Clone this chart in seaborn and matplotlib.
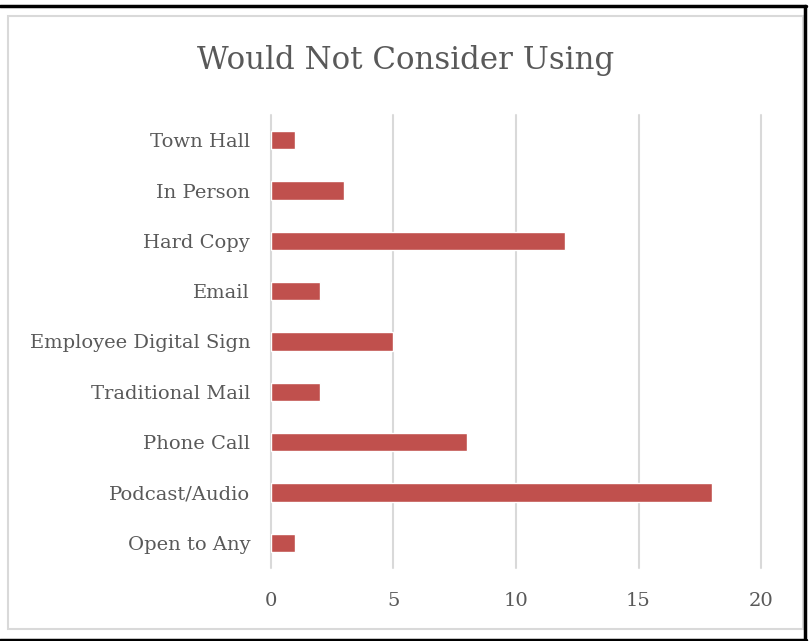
import matplotlib
matplotlib.use("Agg")
import matplotlib.pyplot as plt
import seaborn as sns
import pandas as pd
from matplotlib.patches import Rectangle
from matplotlib.lines import Line2D

categories = ["Town Hall", "In Person", "Hard Copy", "Email", "Employee Digital Sign",
              "Traditional Mail", "Phone Call", "Podcast/Audio", "Open to Any"]
counts = [1, 3, 12, 2, 5, 2, 8, 18, 1]
x_ticks = [0, 5, 10, 15, 20]
title = "Would Not Consider Using"

df = pd.DataFrame({"category": categories, "count": counts})

sns.set_theme(style="white")
plt.rcParams["font.family"] = ["DejaVu Serif"]

text_color = "#595959"
grid_color = "#D9D9D9"
bar_color = "#C0504D"

fig = plt.figure(figsize=(8.12, 6.41), dpi=100)
ax = fig.add_axes([271 / 812, 1 - 568 / 641, 490 / 812, 453 / 641])

sns.barplot(data=df, y="category", x="count", order=categories, color=bar_color,
            saturation=1, width=0.37, ax=ax, orient="h")

ax.set_xlim(0, 20)
ax.set_ylim(len(categories) - 0.5, -0.5)
ax.set_xticks(x_ticks)
ax.set_xticklabels([str(t) for t in x_ticks])
ax.xaxis.grid(True, color=grid_color, linewidth=1.5)
ax.set_axisbelow(True)
for s in ax.spines.values():
    s.set_visible(False)
ax.set_xlabel("")
ax.set_ylabel("")
ax.tick_params(axis="both", length=0, labelsize=14, colors=text_color)
ax.tick_params(axis="y", pad=15)
ax.tick_params(axis="x", pad=17)

fig.canvas.draw()
for gl in ax.get_xgridlines():
    gl.set_clip_on(False)

fig.text(406 / 812, 1 - 60 / 641, title, ha="center", va="center",
         fontsize=22.2, color=text_color)

# chart-area frame and outer black rules
fig.patches.append(Rectangle((8 / 812, 1 - 629 / 641), (803 - 8) / 812, (629 - 16) / 641,
                             transform=fig.transFigure, fill=False,
                             edgecolor=grid_color, linewidth=1.5))
fig.lines.append(Line2D([0, 806 / 812], [1 - 6 / 641, 1 - 6 / 641],
                        transform=fig.transFigure, color="black", linewidth=2.5))
fig.lines.append(Line2D([805.5 / 812, 805.5 / 812], [1 - 6 / 641, 1 - 640 / 641],
                        transform=fig.transFigure, color="black", linewidth=2.5))
fig.lines.append(Line2D([0, 806 / 812], [1 - 639.5 / 641, 1 - 639.5 / 641],
                        transform=fig.transFigure, color="black", linewidth=2.5))

fig.savefig("out.png", dpi=100, facecolor="white")
